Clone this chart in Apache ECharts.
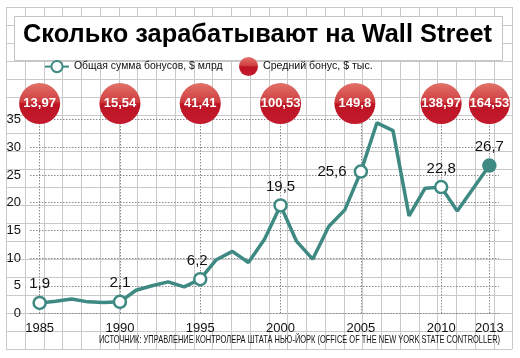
<!DOCTYPE html>
<html>
<head>
<meta charset="utf-8">
<script src="https://cdn.jsdelivr.net/npm/echarts@6/dist/echarts.min.js"></script>
<style>
html,body{margin:0;padding:0;background:#fff;}
#chart{width:520px;height:358px;}
</style>
</head>
<body>
<div id="chart"></div>
<script>
// ---- data ----
const years = [1985,1986,1987,1988,1989,1990,1991,1992,1993,1994,1995,1996,1997,1998,1999,2000,2001,2002,2003,2004,2005,2006,2007,2008,2009,2010,2011,2012,2013];
const bonusTotal = [1.9,2.2,2.6,2.1,2.0,2.1,4.2,5.0,5.7,4.8,6.2,9.7,11.2,9.2,13.4,19.5,13.0,9.8,15.7,18.7,25.6,34.4,33.0,17.6,22.6,22.8,18.5,22.6,26.7];
const tickYears = [1985,1990,1995,2000,2005,2010,2013];
const avgBonus = [13.97,15.54,41.41,100.53,149.8,138.97,164.53];
const yTicks = [0,5,10,15,20,25,30,35];
const titleText = 'Сколько зарабатывают на Wall Street';
const seriesLineName = 'Общая сумма бонусов, $ млрд';
const seriesBallName = 'Средний бонус, $ тыс.';
const sourceText = 'ИСТОЧНИК: УПРАВЛЕНИЕ КОНТРОЛЕРА ШТАТА НЬЮ-ЙОРК (OFFICE OF THE NEW YORK STATE CONTROLLER)';

// ---- style ----
const TEAL = '#3e8a83';
const comma = v => String(v).replace('.', ',');
const ctx = document.createElement('canvas').getContext('2d');
function measure(text, font) { ctx.font = font; return ctx.measureText(text).width; }
const FAM = '"Liberation Sans", Arial, sans-serif';
function fit(text, width, weight) {
  const w = measure(text, (weight || 'normal') + ' 20px ' + FAM);
  return Math.round(20 * width / w * 10) / 10;
}
const legSize1 = fit(seriesLineName, 149);
const legSize2 = fit(seriesBallName, 110);

// graph-paper background
const paper = [];
const PX0 = 6, PX1 = 512, PY0 = 7, PY1 = 349, DX = 18.75, DY = 18;
for (let k = 0; k <= 27; k++) {
  const x = Math.round(PX0 + k * DX) + 0.5;
  paper.push({type:'line', z:-10, silent:true, shape:{x1:x, y1:PY0, x2:x, y2:PY1}, style:{stroke:'#c9c9c9', lineWidth:1}});
}
for (let k = 0; k <= 19; k++) {
  const y = Math.round(PY0 + k * DY) + 0.5;
  paper.push({type:'line', z:-10, silent:true, shape:{x1:PX0, y1:y, x2:PX1, y2:y}, style:{stroke:'#c9c9c9', lineWidth:1}});
}
paper.push({type:'rect', z:-5, silent:true, shape:{x:14.5, y:16.5, width:488, height:44}, style:{fill:'#fff', stroke:'#c4c4c4', lineWidth:1}});

const titleFont = 'bold 26px ' + FAM;
const titleScale = 469 / measure(titleText, titleFont);
paper.push({type:'text', z:5, x:23, y:35, scaleX:titleScale, style:{text:titleText, font:titleFont, fill:'#000', verticalAlign:'middle'}});

const srcFont = '11px ' + FAM;
const srcScale = 401 / measure(sourceText, srcFont);
paper.push({type:'text', z:5, x:500, y:340, scaleX:srcScale, style:{text:sourceText, font:srcFont, fill:'#111', align:'right', verticalAlign:'middle'}});

const lineData = years.map((y, i) => {
  const labeled = tickYears.includes(y);
  const item = {value:[y, bonusTotal[i]]};
  if (!labeled) { item.symbol = 'none'; item.label = {show:false}; }
  if (y === 2013) item.itemStyle = {color: TEAL};
  if (y === 2005) item.label = {position:'left', distance:7};
  if (y === 1995) item.label = {offset:[-3,0]};
  return item;
});

const ballData = tickYears.map((y, i) => {
  const item = {value:[y, yTicks[yTicks.length-1], avgBonus[i]]};
  if (y === 2005) item.symbolOffset = [-6, -16];
  return item;
});

const chart = echarts.init(document.getElementById('chart'), null, {renderer:'canvas'});
chart.setOption({
  animation:false,
  backgroundColor:'#fff',
  graphic: paper,
  legend: [
    {data:[seriesLineName], left:39, top:55, itemWidth:24, itemHeight:14, selectedMode:false,
     textStyle:{fontFamily:FAM, fontSize:legSize1, color:'#111'}},
    {data:[seriesBallName], left:234, top:52, itemWidth:19, itemHeight:19, selectedMode:false,
     textStyle:{fontFamily:FAM, fontSize:legSize2, color:'#111'}}
  ],
  grid:{left:30, right:21, top:119.5, bottom:44.5, containLabel:false, outerBoundsMode:'none'},
  xAxis:{
    type:'value', min:1984.4, max:2013.6,
    axisLine:{show:false}, axisTick:{show:false}, splitLine:{show:false},
    axisLabel:{customValues:tickYears, margin:8, fontFamily:FAM, fontSize:13, color:'#111', formatter: v => String(v)}
  },
  yAxis:{
    type:'value', min:0, max:35, interval:5,
    axisLine:{show:false}, axisTick:{show:false},
    axisLabel:{margin:9, fontFamily:FAM, fontSize:13, color:'#111'},
    splitLine:{show:true, lineStyle:{type:[1.5,1.5], color:'#8a8a8a', width:1}}
  },
  series:[
    {
      name:seriesLineName, type:'line', data:lineData, z:3,
      symbol:'circle', symbolSize:12, showSymbol:true,
      lineStyle:{color:TEAL, width:3.5},
      itemStyle:{color:'#fff', borderColor:TEAL, borderWidth:2.5},
      label:{show:true, position:'top', distance:4, fontFamily:FAM, fontSize:15, color:'#111',
             formatter: p => comma(p.value[1])},
      markLine:{silent:true, symbol:'none', label:{show:false}, z:1,
        lineStyle:{type:[1.5,1.5], color:'#8a8a8a', width:1},
        data: tickYears.map(y => ({xAxis:y}))}
    },
    {
      name:seriesBallName, type:'scatter', data:ballData, clip:false, z:4,
      symbol:'circle', symbolSize:41, symbolOffset:[0,-16],
      itemStyle:{opacity:1, color:{type:'linear', x:0, y:0, x2:0, y2:1, colorStops:[
        {offset:0, color:'#e2726a'},{offset:0.45, color:'#cf3f40'},{offset:0.52, color:'#bd1424'},{offset:1, color:'#c41a2e'}]}},
      label:{show:true, position:'inside', color:'#fff', fontWeight:'bold', fontSize:13,
             fontFamily:FAM, formatter: p => comma(p.value[2])}
    }
  ]
});
</script>
</body>
</html>
